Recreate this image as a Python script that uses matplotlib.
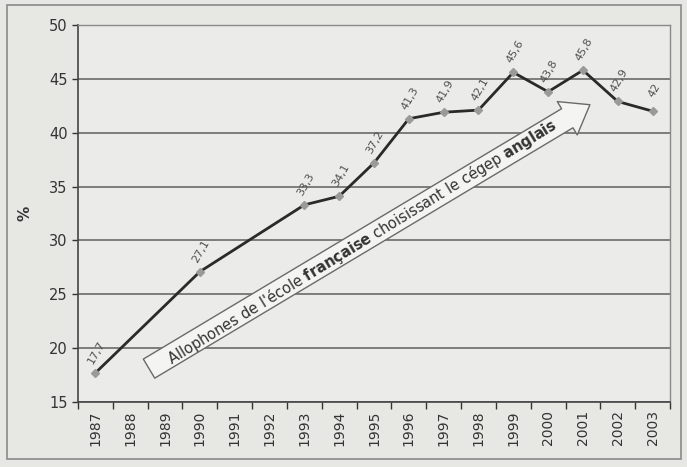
import numpy as np
import matplotlib.pyplot as plt
from matplotlib.patches import Rectangle

years = [str(y) for y in range(1987, 2004)]
# years with a value (the line skips 1988, 1989, 1991, 1992)
data_years = [1987, 1990, 1993, 1994, 1995, 1996, 1997, 1998, 1999, 2000, 2001, 2002, 2003]
values = [17.7, 27.1, 33.3, 34.1, 37.2, 41.3, 41.9, 42.1, 45.6, 43.8, 45.8, 42.9, 42.0]
labels = ["17,7", "27,1", "33,3", "34,1", "37,2", "41,3", "41,9", "42,1",
          "45,6", "43,8", "45,8", "42,9", "42"]
yticks = [15, 20, 25, 30, 35, 40, 45, 50]

fig = plt.figure(figsize=(6.87, 4.67), dpi=100)
fig.patch.set_facecolor('#e7e7e4')
ax = fig.add_axes([78/687, 1 - 402/467, (670-78)/687, (402-25)/467])
ax.set_facecolor('#ebebe9')

# outer frame
fig.patches.append(Rectangle((7/687, 8/467), 674/687, 454/467, transform=fig.transFigure,
                             fill=False, ec='#8a8a88', lw=1.2))

xi = [data_years[i] - 1987 for i in range(len(data_years))]
ax.plot(xi, values, color='#2a2a2a', lw=2.0, zorder=3,
        marker='D', ms=4.5, mfc='#9a9a98', mec='#9a9a98')

for x, v, t in zip(xi, values, labels):
    ax.annotate(t, (x, v), xytext=(1, 15), textcoords='offset points',
                ha='center', va='center', rotation=60, fontsize=8, color='#505050')

ax.set_xlim(-0.5, len(years) - 0.5)
ax.set_ylim(15, 50)
ax.set_yticks(yticks)
ax.set_xticks(range(len(years)))
ax.set_xticklabels(years, rotation=90, fontsize=10, color='#333333')
ax.tick_params(axis='y', labelsize=10.5, colors='#333333', length=4, width=1)
ax.set_xticks(np.arange(-0.5, len(years), 1), minor=True)
ax.tick_params(axis='x', which='major', length=0, pad=6)
ax.tick_params(axis='x', which='minor', length=5, width=1, color='#333333')
ax.yaxis.grid(True, color='#6a6a6a', lw=1.2)
ax.set_axisbelow(True)
ax.set_ylabel('%', fontsize=11, fontweight='bold', color='#333333', labelpad=12)

for s in ['left', 'bottom']:
    ax.spines[s].set_color('#444444')
    ax.spines[s].set_linewidth(1.2)
for s in ['right', 'top']:
    ax.spines[s].set_color('#8a8a88')
    ax.spines[s].set_linewidth(1.0)

# big outlined arrow with caption
ax.annotate('', xy=(14.2, 42.6), xytext=(1.54, 18.1),
            arrowprops=dict(arrowstyle='simple,head_length=1.9,head_width=2.8,tail_width=1.6',
                            fc='#f4f4f2', ec='#6a6a6a', lw=1.0, shrinkA=0, shrinkB=0),
            zorder=4)
ax.text(7.65, 29.9, r"Allophones de l'école $\mathbf{française}$ choisissant le cégep $\mathbf{anglais}$",
        rotation=31.5, rotation_mode='anchor', ha='center', va='center',
        fontsize=10.5, color='#333333', zorder=5)

fig.savefig('out.png', dpi=100, facecolor=fig.get_facecolor())
